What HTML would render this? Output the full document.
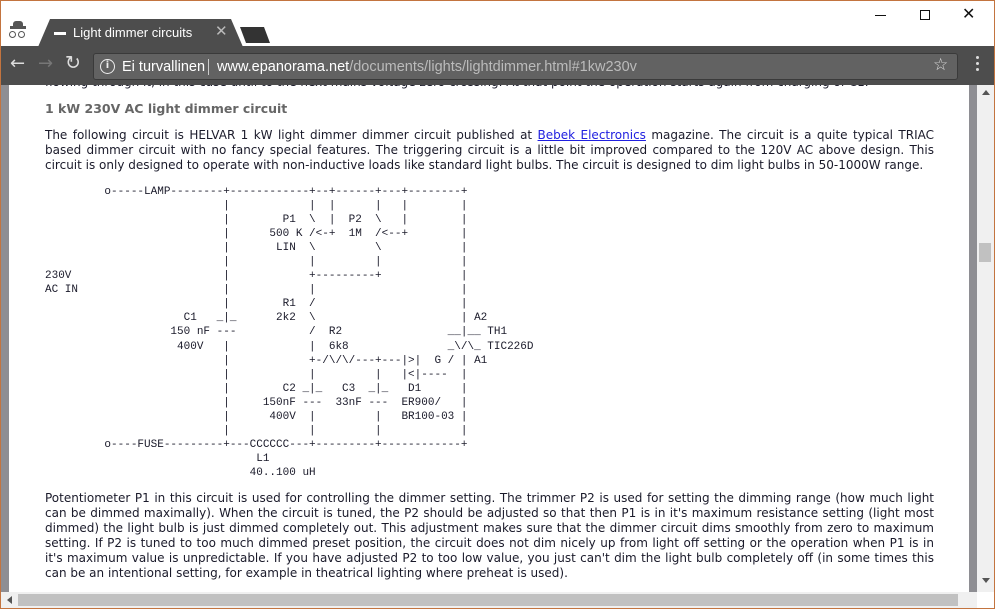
<!DOCTYPE html>
<html><head><meta charset="utf-8"><style>
*{margin:0;padding:0;box-sizing:border-box}
body{width:995px;height:609px;overflow:hidden;background:#fff;position:relative;font-family:"DejaVu Sans","Liberation Sans",sans-serif}
.frame{position:absolute;left:0;top:0;width:995px;height:609px;border:1px solid #c3743f;pointer-events:none;z-index:10}
.titlebar{position:absolute;left:0;top:0;width:995px;height:46px;background:#fff}
.tab{position:absolute;left:38px;top:19px;width:205px;height:28px;background:#4d4d4d;clip-path:polygon(12px 0,193px 0,205px 28px,0 28px)}
.tab span{position:absolute;left:35px;top:6px;color:#fff;font-family:"Liberation Sans",sans-serif;font-size:13px}
.tab .fav{position:absolute;left:16px;top:13px;width:12px;height:3px;background:#fff}
.tab .x{position:absolute;left:177px;top:3px;color:#bbb;font-size:15px}
.newtab{position:absolute;left:240px;top:27px;width:30px;height:16px;background:#333;clip-path:polygon(0 0,24px 0,30px 16px,6px 16px)}
.toolbar{position:absolute;left:0;top:46px;width:995px;height:39px;background:#4d4d4d;z-index:5}
.omni{position:absolute;left:93px;top:53px;width:865px;height:27px;background:#626262;border:1px solid #3a3a3a;border-radius:3px;z-index:6}
.omni .t{position:absolute;top:5px;font-family:"Liberation Sans",sans-serif;font-size:14.5px;color:#fff}
.content{position:absolute;left:0;top:85px;width:995px;height:524px;background:#fff}
.lstrip{position:absolute;left:1px;top:85px;width:8px;height:507px;background:#8e8e93}
.rstrip{position:absolute;left:969px;top:85px;width:8px;height:507px;background:#8e8e93}
.vscroll{position:absolute;left:977px;top:85px;width:17px;height:507px;background:#f0f0f0}
.hscroll{position:absolute;left:1px;top:592px;width:976px;height:16px;background:#f0f0f0}
.txt{position:absolute;left:45px;width:889px;font-size:12px;color:#1a1a2a;line-height:15px}
.txt div{text-align:justify;text-align-last:justify;white-space:nowrap}
.txt div.l{text-align-last:left}
pre{position:absolute;left:45px;top:185px;font-family:"Liberation Mono",monospace;font-size:11px;line-height:14.05px;color:#1a1a2a}
a{color:#2020e0}
</style></head><body>
<div class="titlebar">
<div style="position:absolute;left:10px;top:26px;width:16px;height:3px;background:#555"></div>
<div style="position:absolute;left:13px;top:21px;width:10px;height:6px;background:#555;border-radius:3px 3px 0 0"></div>
<div style="position:absolute;left:9px;top:31px;width:7px;height:7px;border:1.5px solid #555;border-radius:50%"></div>
<div style="position:absolute;left:18px;top:31px;width:7px;height:7px;border:1.5px solid #555;border-radius:50%"></div>
<div class="tab"><div class="fav"></div><span>Light dimmer circuits</span><div class="x">✕</div></div>
<div class="newtab"></div>
<div style="position:absolute;left:875px;top:15px;width:11px;height:1px;background:#111"></div>
<div style="position:absolute;left:920px;top:10px;width:10px;height:10px;border:1px solid #111"></div>
<div style="position:absolute;left:962px;top:4px;font-size:16px;color:#111;font-family:'DejaVu Sans'">✕</div>
</div>
<div class="toolbar">
<div style="position:absolute;left:10px;top:7px;color:#ddd;font-size:18px">←</div>
<div style="position:absolute;left:38px;top:7px;color:#777;font-size:18px">→</div>
<div style="position:absolute;left:65px;top:6px;color:#ddd;font-size:19px">↻</div>
<div style="position:absolute;left:976px;top:10px;width:3px;height:3px;background:#ddd;box-shadow:0 6px 0 #ddd,0 12px 0 #ddd;border-radius:50%"></div>
</div>
<div class="omni">
<div style="position:absolute;left:6px;top:5px;width:15px;height:15px;border:1.5px solid #eee;border-radius:50%;color:#eee;font-size:10px;text-align:center;line-height:12px;font-weight:bold">i</div>
<div class="t" style="left:28px">Ei turvallinen</div>
<div style="position:absolute;left:114px;top:5px;width:1px;height:16px;background:#ccc"></div>
<div class="t" style="left:123px">www.epanorama.net<span style="color:#bbb">/documents/lights/lightdimmer.html#1kw230v</span></div>
<div style="position:absolute;left:839px;top:1px;color:#ddd;font-size:17px">☆</div>
</div>
<div class="content"></div>
<div class="lstrip"></div><div class="rstrip"></div>
<div class="vscroll"><div style="position:absolute;left:5px;top:5px;border:4px solid transparent;border-bottom:5px solid #555;border-top:0"></div><div style="position:absolute;left:2px;top:158px;width:12px;height:19px;background:#c1c1c1"></div><div style="position:absolute;left:5px;top:493px;border:4px solid transparent;border-top:5px solid #555;border-bottom:0"></div></div>
<div class="hscroll"><div style="position:absolute;left:6px;top:4px;border:4px solid transparent;border-right:5px solid #555;border-left:0"></div><div style="position:absolute;left:17px;top:2px;width:940px;height:12px;background:#c1c1c1"></div></div>
<div class="txt" style="top:85px;height:4px;overflow:hidden"><div class="l" style="margin-top:-10px">flowing through it, in this case until to the next mains voltage zero crossing. At that point the operation starts again from charging of C1.</div></div>
<div class="txt" style="top:101px;font-weight:bold;color:#666;font-size:12.5px"><div class="l">1 kW 230V AC light dimmer circuit</div></div>
<div class="txt" style="top:128px">
<div>The following circuit is HELVAR 1 kW light dimmer dimmer circuit published at <a href="#" style="text-decoration:underline">Bebek Electronics</a> magazine. The circuit is a quite typical TRIAC</div>
<div>based dimmer circuit with no fancy special features. The triggering circuit is a little bit improved compared to the 120V AC above design. This</div>
<div class="l">circuit is only designed to operate with non-inductive loads like standard light bulbs. The circuit is designed to dim light bulbs in 50-1000W range.</div>
</div>
<pre>         o-----LAMP--------+------------+--+------+---+--------+
                           |            |  |      |   |        |
                           |        P1  \  |  P2  \   |        |
                           |      500 K /&lt;-+  1M  /&lt;--+        |
                           |       LIN  \         \            |
                           |            |         |            |
230V                       |            +---------+            |
AC IN                      |            |                      |
                           |        R1  /                      |
                     C1   _|_      2k2  \                      | A2
                   150 nF ---           /  R2                __|__ TH1
                    400V   |            |  6k8               _\/\_ TIC226D
                           |            +-/\/\/---+---|&gt;|  G / | A1
                           |            |         |   |&lt;|----  |
                           |        C2 _|_   C3  _|_   D1      |
                           |     150nF ---  33nF ---  ER900/   |
                           |      400V  |         |   BR100-03 |
                           |            |         |            |
         o----FUSE---------+---CCCCCC---+---------+------------+
                                L1
                               40..100 uH</pre>
<div class="txt" style="top:491px">
<div>Potentiometer P1 in this circuit is used for controlling the dimmer setting. The trimmer P2 is used for setting the dimming range (how much light</div>
<div>can be dimmed maximally). When the circuit is tuned, the P2 should be adjusted so that then P1 is in it's maximum resistance setting (light most</div>
<div>dimmed) the light bulb is just dimmed completely out. This adjustment makes sure that the dimmer circuit dims smoothly from zero to maximum</div>
<div>setting. If P2 is tuned to too much dimmed preset position, the circuit does not dim nicely up from light off setting or the operation when P1 is in</div>
<div>it's maximum value is unpredictable. If you have adjusted P2 to too low value, you just can't dim the light bulb completely off (in some times this</div>
<div class="l">can be an intentional setting, for example in theatrical lighting where preheat is used).</div>
</div>
<div class="frame"></div>
</body></html>
